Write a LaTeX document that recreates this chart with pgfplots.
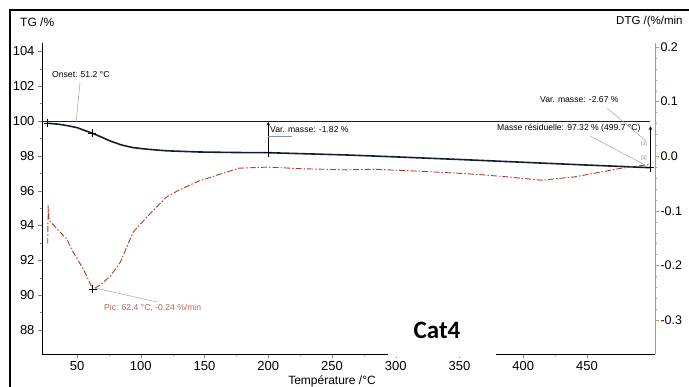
\documentclass[border=0pt]{standalone}
\usepackage{pgfplots}
\pgfplotsset{compat=1.18}
\usepackage{fontspec}
\setmainfont{Liberation Sans}
\newfontfamily\catfont{Carlito}
\definecolor{tgc}{RGB}{20,30,50}
\definecolor{dtgc}{RGB}{170,60,40}
\definecolor{tanc}{RGB}{190,150,110}
\definecolor{picc}{RGB}{185,100,80}
\definecolor{leadc}{RGB}{140,150,160}
\begin{document}
\begin{tikzpicture}
\begin{axis}[
  scale only axis,
  width=613pt, height=311pt,
  xmin=22.5, xmax=503.3, ymin=86.62, ymax=104.48,
  axis x line*=bottom, axis y line*=left,
  xtick={50,100,...,450}, ytick={88,90,...,104},
  minor x tick num=1, minor y tick num=1,
  tick align=outside, major tick length=4pt, minor tick length=2pt,
  tick label style={font=\fontsize{13}{15}\selectfont},
  /pgf/number format/assume math mode=true,
  axis line style={line width=0.9pt},
  clip=false,
]
\coordinate (O) at (rel axis cs:0,0);
\addplot[tgc, line width=1.6pt] coordinates {
(27,99.87)(35,99.82)(42,99.74)(50,99.62)(55,99.48)(62,99.3)(70,99.05)(76,98.85)
(85,98.62)(94,98.47)(105,98.38)(120,98.29)(146,98.22)(175,98.19)(200,98.18)
(261,98.05)(300,97.94)(350,97.79)(400,97.63)(450,97.47)(499.7,97.32)};
\addplot[tgc, line width=0.7pt] coordinates {(22.5,100)(499.7,100)};
\addplot[only marks, mark=+, mark size=4pt, black, mark options={line width=0.8pt}]
  coordinates {(27,99.87)(62,99.3)(200,98.18)(499.7,97.32)};
\draw[->, >=stealth, line width=0.7pt] (axis cs:200,98.18) -- (axis cs:200,99.95);
\draw[->, >=stealth, line width=0.7pt] (axis cs:499.7,97.15) -- (axis cs:499.7,99.7);
\end{axis}
\begin{axis}[
  scale only axis,
  width=613pt, height=311pt,
  xmin=22.5, xmax=503.3, ymin=-0.3623, ymax=0.2073,
  axis x line=none, axis y line*=right,
  ytick={-0.3,-0.2,-0.1,0,0.1,0.2},
  yticklabels={-0.3,-0.2,-0.1,0.0,0.1,0.2},
  minor y tick num=4,
  tick align=outside, major tick length=4pt, minor tick length=2pt,
  y axis line style={tanc, line width=0.9pt},
  ytick style={tanc},
  tick label style={font=\fontsize{12.5}{15}\selectfont},
  yticklabel style={xshift=-2pt},
  clip=false,
]
\addplot[dtgc, line width=0.9pt, dash pattern=on 6pt off 2pt on 1.5pt off 2pt] coordinates {
(27,-0.16)(27.3,-0.09)(28,-0.117)(35,-0.135)(42,-0.152)(46,-0.172)(55,-0.207)
(62.4,-0.244)(68,-0.236)(76,-0.22)(84,-0.194)(94,-0.139)(107,-0.106)(120,-0.075)
(130,-0.062)(145,-0.046)(162,-0.033)(177,-0.022)(200,-0.02)(226,-0.023)(261,-0.025)
(284,-0.024)(323,-0.028)(362,-0.033)(388,-0.038)(414,-0.044)(440,-0.038)(461,-0.029)
(477,-0.022)(499.7,-0.015)};
\addplot[only marks, mark=+, mark size=4pt, black, mark options={line width=0.8pt}]
  coordinates {(62.4,-0.244)};
\end{axis}
\begin{scope}[shift={(O)}, x=1pt, y=1pt]
\draw[line width=1.6pt] (-32,-33) -- (-32,344) -- (647,344);
\draw[leadc, line width=0.4pt] (38,271) -- (34,231);
\node[anchor=west, font=\fontsize{8.6}{10}\selectfont, inner sep=0] at (10,279) {Onset: 51.2 °C};
\draw[leadc, line width=0.4pt] (226,218) -- (250,218);
\node[anchor=west, font=\fontsize{8.6}{10}\selectfont, inner sep=0] at (228,224) {Var. masse: -1.82 \%};
\draw[leadc, line width=0.4pt] (565,246) -- (604,213);
\node[anchor=west, font=\fontsize{8.6}{10}\selectfont, inner sep=0] at (498,254) {Var. masse: -2.67 \%};
\draw[leadc, line width=0.4pt] (548,218) -- (603,189);
\node[anchor=west, font=\fontsize{8.6}{10}\selectfont, inner sep=0] at (455,226) {Masse résiduelle: 97.32 \% (499.7 °C)};
\node[anchor=west, font=\fontsize{5}{6}\selectfont, inner sep=0, gray] at (599,210) {[3]};
\node[anchor=west, font=\fontsize{5}{6}\selectfont, inner sep=0, gray] at (599,196) {[3]};
\draw[leadc, line width=0.4pt] (53,66) -- (115,52);
\node[anchor=west, font=\fontsize{8.6}{10}\selectfont, inner sep=0, text=picc] at (62,46) {Pic: 62.4 °C, -0.24 \%/min};
\node[anchor=west, font=\fontsize{12}{14}\selectfont, inner sep=0] at (-22,332) {TG /\%};
\node[anchor=west, font=\fontsize{11.5}{14}\selectfont, inner sep=0] at (574,332) {DTG /(\%/min};
\node[font=\fontsize{12}{14}\selectfont, inner sep=0] at (290,-27) {Température /°C};
\fill[white] (346,-3) rectangle (454,57);
\node[font=\catfont\bfseries\fontsize{25}{28}\selectfont] at (395,24) {Cat4};
\pgfresetboundingbox
\useasboundingbox (-42,-33) rectangle (647,354);
\end{scope}
\end{tikzpicture}
\end{document}
